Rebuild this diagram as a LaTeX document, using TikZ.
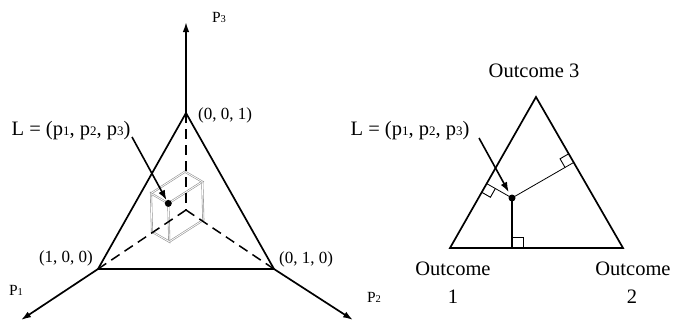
\documentclass[tikz,border=0pt]{standalone}
\usepackage{fontspec}
\setmainfont{Liberation Serif}
\usetikzlibrary{arrows.meta,calc}
\newcommand\dgt[2]{{\fontsize{#1}{#1}\selectfont #2}}
\begin{document}
\begin{tikzpicture}[x=1pt,y=-1pt,
  thickline/.style={line width=1.7pt, line join=miter},
  axis/.style={line width=1.7pt,-{Latex[length=10pt,width=6.5pt]}},
  hiddenline/.style={line width=1.5pt, dash pattern=on 10pt off 6pt},
  boxedge/.style={draw=gray!85, double=white, double distance=0.8pt, line width=0.6pt, line join=miter},
  pointer/.style={line width=1.6pt,-{Latex[length=10pt,width=7pt]}},
  big/.style={font=\fontsize{20.5}{22}\selectfont, inner sep=0pt, anchor=base},
  coordlab/.style={font=\fontsize{17}{19}\selectfont, inner sep=0pt, anchor=base},
  axlab/.style={font=\fontsize{15.5}{17}\selectfont, inner sep=0pt, anchor=base},
  dotp/.style={circle, fill=black, inner sep=0pt, minimum size=7pt},
  perpthin/.style={line width=0.8pt},
  perpthick/.style={line width=1.7pt},
  ramark/.style={line width=0.9pt}]
\useasboundingbox (0,0) rectangle (673,322);
% ---------------- left diagram ----------------
\coordinate (V1) at (98,269);
\coordinate (V2) at (274,269);
\coordinate (V3) at (186,113);
\coordinate (O) at (186,210);
\coordinate (T1) at (21,320);
\coordinate (T2) at (353,320);
\coordinate (T3) at (186,22);
% box corners
\coordinate (BD) at (152,231.7);
\coordinate (BG) at (203.3,220);
\coordinate (BE) at (185,171.7);
\coordinate (BA) at (151,193.4);
\coordinate (BF) at (202.3,181.7);
\coordinate (BC) at (169.3,241.7);
\coordinate (BB) at (168.3,203.4);
\draw[boxedge] (BA) -- (BB) -- (BC) -- (BD) -- cycle;
\draw[boxedge] (BA) -- (BE) -- (BF) -- (BB);
\draw[boxedge] (BF) -- (BG) -- (BC);
% dashed lines
\draw[hiddenline] (V3) -- (O);
\draw[hiddenline] (O) -- (V1);
\draw[hiddenline] (O) -- (V2);
% triangle
\draw[thickline] (V1) -- (V2) -- (V3) -- cycle;
% axes
\draw[axis] (V3) -- (T3);
\draw[axis] (V1) -- (T1);
\draw[axis] (V2) -- (T2);
% labels
\node[axlab] (p3lab) at (219,22) {P\dgt{10.5}{3}};
\node[axlab] (p1lab) at (16,295) {P\dgt{10.5}{1}};
\node[axlab] (p2lab) at (374,302) {P\dgt{10.5}{2}};
\node[coordlab] (c001) at (225,119) {(0, 0, 1)};
\node[coordlab] (c100) at (66,262) {(1, 0, 0)};
\node[coordlab] (c010) at (306,263) {(0, 1, 0)};
\node[big] (Lleft) at (71,135) {L = (p\dgt{13}{1}, p\dgt{13}{2}, p\dgt{13}{3})};
\node[dotp] (dotL) at (BB) {};
\coordinate (Ls) at (132,137);
\draw[pointer] (Ls) -- (dotL);
% ---------------- right diagram ----------------
\coordinate (R1) at (450,248);
\coordinate (R2) at (623,248);
\coordinate (R3) at (536,97);
\coordinate (D2) at (512,198);
\draw[thickline] (R1) -- (R2) -- (R3) -- cycle;
\coordinate (F0) at ($(R1)!(D2)!(R2)$);
\coordinate (F1) at ($(R1)!(D2)!(R3)$);
\coordinate (F2) at ($(R2)!(D2)!(R3)$);
\draw[perpthick] (D2) -- (F0);
\draw[perpthin] (D2) -- (F1);
\draw[perpthin] (D2) -- (F2);
% right angle marks
\coordinate (m0a) at ($(F0)!11pt!(R2)$);
\coordinate (m0b) at ($(F0)!11pt!(D2)$);
\draw[ramark] (m0a) -- ($(m0a)+(m0b)-(F0)$) -- (m0b);
\coordinate (m1a) at ($(F1)!10pt!(R1)$);
\coordinate (m1b) at ($(F1)!10pt!(D2)$);
\draw[ramark] (m1a) -- ($(m1a)+(m1b)-(F1)$) -- (m1b);
\coordinate (m2a) at ($(F2)!10pt!(R3)$);
\coordinate (m2b) at ($(F2)!10pt!(D2)$);
\draw[ramark] (m2a) -- ($(m2a)+(m2b)-(F2)$) -- (m2b);
\node[dotp] (dotR) at (D2) {};
\node[big] (Lright) at (410,135) {L = (p\dgt{13}{1}, p\dgt{13}{2}, p\dgt{13}{3})};
\coordinate (Rs) at (479,138);
\draw[pointer, shorten >=3pt] (Rs) -- (dotR);
\node[big] (o3) at (534,77) {Outcome 3};
\node[big] (o1) at (453,275) {Outcome};
\node[big] (o1n) at (453,303) {1};
\node[big] (o2) at (633,275) {Outcome};
\node[big] (o2n) at (632,303) {2};
\end{tikzpicture}
\end{document}
